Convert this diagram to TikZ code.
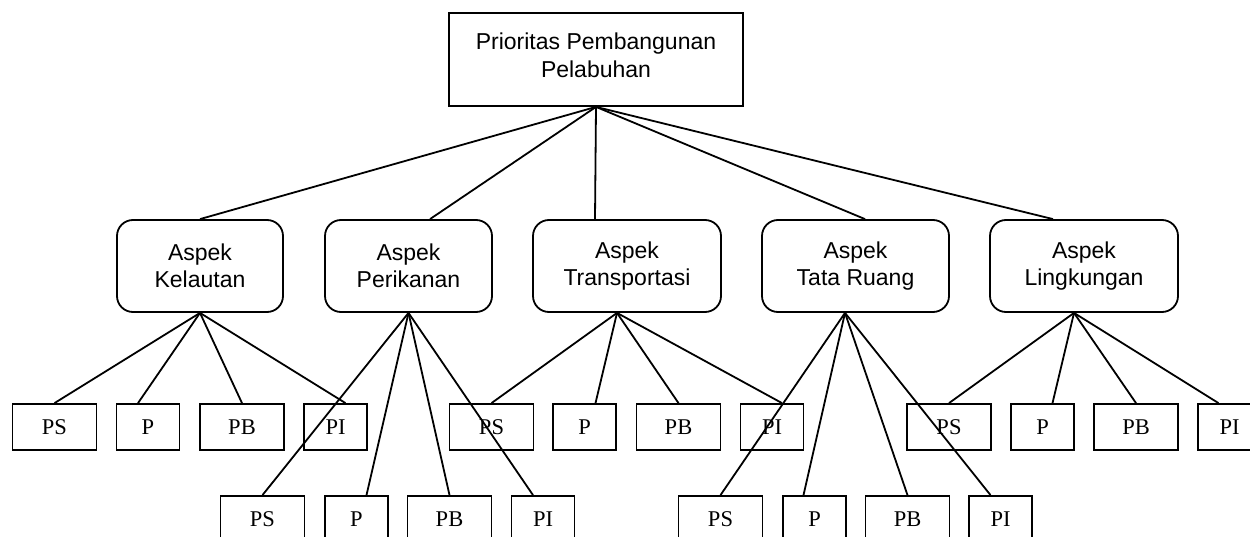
\documentclass[tikz,border=0pt]{standalone}
\usepackage{fontspec}
\setmainfont{Liberation Serif}
\newfontfamily\arialf{Liberation Sans}
\usetikzlibrary{calc}
\begin{document}
\begin{tikzpicture}[x=1pt,y=-1pt, line width=1.8pt,
 topbox/.style={draw, font=\arialf\fontsize{23}{28}\selectfont, align=center, minimum width=294pt, minimum height=93pt, inner sep=0pt},
 aspbox/.style={draw, rounded corners=16pt, font=\arialf\fontsize{23}{27}\selectfont, align=center, minimum height=92pt, inner sep=0pt},
 leaf/.style={draw, font=\fontsize{22.5}{24}\selectfont, minimum height=46pt, inner sep=0pt},
 wide/.style={leaf, minimum width=84pt},
 narrow/.style={leaf, minimum width=63pt},
 conn/.style={line width=1.8pt}]
\useasboundingbox (0,0) rectangle (1250,537);
% root
\node[draw, minimum width=294pt, minimum height=93pt, inner sep=0pt] (root) at (596,59.5) {};
\node[font=\arialf\fontsize{23}{28}\selectfont, align=center, inner sep=0pt] (roottext) at (596,55) {Prioritas Pembangunan\\Pelabuhan};
% aspects
\node[aspbox, minimum width=166pt] (a1) at (200,266) {Aspek\\Kelautan};
\node[aspbox, minimum width=167pt] (a2) at (408.5,266) {Aspek\\Perikanan};
\node[aspbox, minimum width=188pt] (a3) at (627,266) {Aspek\\Transportasi};
\node[aspbox, minimum width=187pt] (a4) at (855.5,266) {Aspek\\Tata Ruang};
\node[aspbox, minimum width=188pt] (a5) at (1084,266) {Aspek\\Lingkungan};
% row 1 leaves
\node[wide]   (psA) at (54.5,427) {PS};
\node[narrow] (pA)  at (148,427) {P};
\node[wide]   (pbA) at (242,427) {PB};
\node[narrow] (piA) at (335.5,427) {PI};
\node[wide]   (psC) at (491.5,427) {PS};
\node[narrow] (pC)  at (584.5,427) {P};
\node[wide]   (pbC) at (678.5,427) {PB};
\node[narrow] (piC) at (772,427) {PI};
\node[wide]   (psE) at (949,427) {PS};
\node[narrow] (pE)  at (1042.5,427) {P};
\node[wide]   (pbE) at (1136,427) {PB};
\node[narrow] (piE) at (1229.5,427) {PI};
% row 2 leaves
\node[wide]   (psB) at (262.5,519) {PS};
\node[narrow] (pB)  at (356.5,519) {P};
\node[wide]   (pbB) at (449.5,519) {PB};
\node[narrow] (piB) at (543,519) {PI};
\node[wide]   (psD) at (720.5,519) {PS};
\node[narrow] (pD)  at (814.5,519) {P};
\node[wide]   (pbD) at (907.5,519) {PB};
\node[narrow] (piD) at (1000.5,519) {PI};
% root connectors
\draw[conn] (root.south) -- (a1.north);
\draw[conn] (root.south) -- ($(a2.north)+(21.5,0)$);
\draw[conn] (root.south) -- ($(a3.north)+(-32,0)$);
\draw[conn] (root.south) -- ($(a4.north)+(9.5,0)$);
\draw[conn] (root.south) -- ($(a5.north)+(-31,0)$);
% Kelautan
\coordinate (fA) at (a1.south);
\draw[conn] (fA) -- (psA.north);
\draw[conn] (fA) -- ($(pA.north)+(-10,0)$);
\draw[conn] (fA) -- (pbA.north);
\draw[conn] (fA) -- ($(piA.north)+(10,0)$);
% Perikanan
\coordinate (fB) at (a2.south);
\draw[conn] (fB) -- (psB.north);
\draw[conn] (fB) -- ($(pB.north)+(10,0)$);
\draw[conn] (fB) -- (pbB.north);
\draw[conn] (fB) -- ($(piB.north)+(-10,0)$);
% Transportasi
\coordinate (fC) at ($(a3.south)+(-10,0)$);
\draw[conn] (fC) -- (psC.north);
\draw[conn] (fC) -- ($(pC.north)+(11,0)$);
\draw[conn] (fC) -- (pbC.north);
\draw[conn] (fC) -- ($(piC.north)+(10,0)$);
% Tata Ruang
\coordinate (fD) at ($(a4.south)+(-10.5,0)$);
\draw[conn] (fD) -- (psD.north);
\draw[conn] (fD) -- ($(pD.north)+(-11,0)$);
\draw[conn] (fD) -- (pbD.north);
\draw[conn] (fD) -- ($(piD.north)+(-10,0)$);
% Lingkungan
\coordinate (fE) at ($(a5.south)+(-10,0)$);
\draw[conn] (fE) -- (psE.north);
\draw[conn] (fE) -- ($(pE.north)+(10,0)$);
\draw[conn] (fE) -- (pbE.north);
\draw[conn] (fE) -- ($(piE.north)+(-11,0)$);
\end{tikzpicture}
\end{document}
